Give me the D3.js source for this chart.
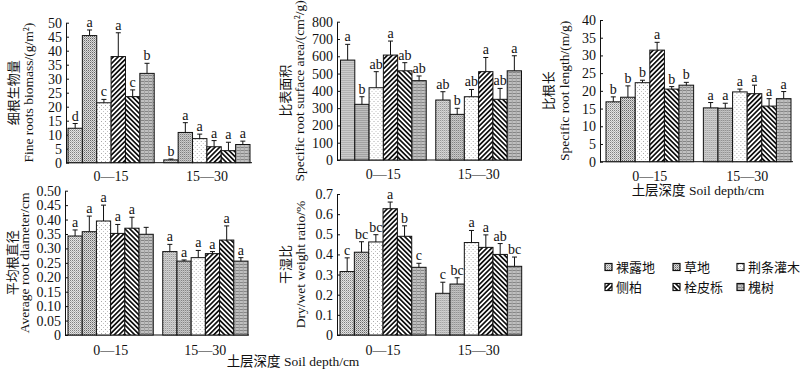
<!DOCTYPE html>
<html>
<head>
<meta charset="utf-8">
<script src="https://cdn.jsdelivr.net/npm/d3@7"></script>
<style>
  body { margin: 0; background: #fff; }
  text { font-family: "Liberation Serif", "Times New Roman", "Noto Sans CJK SC", serif; fill: #111; }
</style>
</head>
<body>
<div id="chart"></div>
<script>
var width = 800;
var height = 374;

var treatments = ['裸露地', '草地', '荆条灌木', '侧柏', '栓皮栎', '槐树'];
var depths = ['0—15', '15—30'];

// fine root biomass g/m2
var biomassMean = [[12.3, 45.4, 21.4, 37.9, 23.6, 31.9], [1.0, 10.8, 8.6, 5.7, 4.3, 6.5]];
var biomassErr = [[1.7, 2.0, 1.2, 8.5, 2.4, 3.6], [0.3, 3.5, 1.6, 2.2, 3.0, 1.2]];
var biomassSig = [['d', 'a', 'c', 'a', 'c', 'b'], ['b', 'a', 'a', 'a', 'a', 'a']];

// specific root surface area cm2/g
var areaMean = [[578, 322, 418, 607, 516, 459], [347, 264, 366, 511, 351, 516]];
var areaErr = [[91, 44, 93, 81, 47, 27], [48, 35, 42, 82, 63, 87]];
var areaSig = [['a', 'b', 'ab', 'a', 'ab', 'ab'], ['ab', 'b', 'ab', 'a', 'ab', 'a']];

// specific root length m/g
var lengthMean = [[16.9, 18.2, 22.3, 31.5, 20.5, 21.6], [15.2, 15.1, 19.7, 19.2, 15.7, 17.8]];
var lengthErr = [[1.4, 3.2, 0.7, 2.2, 0.7, 0.8], [1.5, 1.4, 0.8, 2.4, 2.1, 2.0]];
var lengthSig = [['b', 'b', 'b', 'a', 'b', 'b'], ['a', 'a', 'a', 'a', 'a', 'a']];

// average root diameter cm
var diamMean = [[0.343, 0.358, 0.395, 0.352, 0.370, 0.349], [0.289, 0.256, 0.268, 0.282, 0.329, 0.256]];
var diamErr = [[0.021, 0.054, 0.055, 0.031, 0.038, 0.024], [0.025, 0.004, 0.025, 0.007, 0.049, 0.012]];
var diamSig = [['a', 'a', 'a', 'a', 'a', ''], ['a', 'a', 'a', 'a', 'a', 'a']];

// dry/wet weight ratio
var ratioMean = [[0.315, 0.411, 0.462, 0.627, 0.490, 0.336], [0.207, 0.253, 0.459, 0.435, 0.400, 0.341]];
var ratioErr = [[0.068, 0.052, 0.036, 0.033, 0.052, 0.020], [0.055, 0.031, 0.060, 0.062, 0.054, 0.046]];
var ratioSig = [['c', 'bc', 'bc', 'a', 'b', 'c'], ['c', 'bc', 'a', 'a', 'ab', 'bc']];

var biomassTicks = d3.range(0, 51, 5);
var areaTicks = d3.range(0, 801, 100);
var lengthTicks = d3.range(0, 41, 5);
var diamTicks = d3.range(0, 11).map(function(i) { return i * 0.05; });
var ratioTicks = d3.range(0, 8).map(function(i) { return i * 0.1; });

var svg = d3.select('#chart')
  .append('svg')
  .attr('width', width)
  .attr('height', height);

var defs = svg.append('defs');

// fill patterns, one per treatment
function pat(id, w, h) {
  return defs.append('pattern')
    .attr('id', id)
    .attr('patternUnits', 'userSpaceOnUse')
    .attr('width', w)
    .attr('height', h);
}
var p0 = pat('p0', 2, 2);
p0.append('rect').attr('width', 2).attr('height', 2).attr('fill', '#e4e4e4');
p0.append('rect').attr('width', 1).attr('height', 1).attr('fill', '#808080');
p0.append('rect').attr('x', 1).attr('y', 1).attr('width', 1).attr('height', 1).attr('fill', '#b4b4b4');

var p1 = pat('p1', 2, 2);
p1.append('rect').attr('width', 2).attr('height', 2).attr('fill', '#dcdcdc');
p1.append('rect').attr('width', 1).attr('height', 1).attr('fill', '#666');
p1.append('rect').attr('x', 1).attr('y', 1).attr('width', 1).attr('height', 1).attr('fill', '#a2a2a2');

var p2 = pat('p2', 4, 4);
p2.append('rect').attr('width', 4).attr('height', 4).attr('fill', '#fff');
p2.append('rect').attr('x', 1).attr('y', 1).attr('width', 1).attr('height', 1).attr('fill', '#aaa');
p2.append('rect').attr('x', 3).attr('y', 3).attr('width', 1).attr('height', 1).attr('fill', '#c4c4c4');

var p3 = pat('p3', 3.4, 3.4).attr('patternTransform', 'rotate(45)');
p3.append('rect').attr('width', 3.4).attr('height', 3.4).attr('fill', '#fff');
p3.append('rect').attr('width', 1.7).attr('height', 3.4).attr('fill', '#111');

var p4 = pat('p4', 3.4, 3.4).attr('patternTransform', 'rotate(-45)');
p4.append('rect').attr('width', 3.4).attr('height', 3.4).attr('fill', '#fff');
p4.append('rect').attr('width', 1.7).attr('height', 3.4).attr('fill', '#111');

var p5 = pat('p5', 4, 3);
p5.append('rect').attr('width', 4).attr('height', 3).attr('fill', '#c0c0c0');
p5.append('rect').attr('width', 4).attr('height', 1).attr('fill', '#858585');
p5.append('rect').attr('width', 1).attr('height', 3).attr('fill', '#a4a4a4');

var fills = ['url(#p0)', 'url(#p1)', 'url(#p2)', 'url(#p3)', 'url(#p4)', 'url(#p5)'];

var panels = [
  { mean: biomassMean, err: biomassErr, sig: biomassSig, ticks: biomassTicks, fmt: function(d) { return d; },
    cn: '细根生物量', en: 'Fine roots  biomass/(g/m²)',
    left: 66, right: 252, barL: 68, barR: 250, top: 22.7, bottom: 162.7, cnX: 13, enX: 28, labY: 176 },
  { mean: areaMean, err: areaErr, sig: areaSig, ticks: areaTicks, fmt: function(d) { return d; },
    cn: '比表面积', en: 'Specific root surface area/(cm²/g)',
    left: 337, right: 522, barL: 340.5, barR: 521.5, top: 21.7, bottom: 160, cnX: 285, enX: 299, labY: 174 },
  { mean: lengthMean, err: lengthErr, sig: lengthSig, ticks: lengthTicks, fmt: function(d) { return d; },
    cn: '比根长', en: 'Specific root length/(m/g)',
    left: 600, right: 793, barL: 606, barR: 791, top: 20, bottom: 161.7, cnX: 548, enX: 564, labY: 176 },
  { mean: diamMean, err: diamErr, sig: diamSig, ticks: diamTicks, fmt: function(d) { return d === 0 ? '0' : d3.format('.2f')(d); },
    cn: '平均根直径', en: 'Average root diameter/cm',
    left: 65, right: 249, barL: 68, barR: 248, top: 190.7, bottom: 335, cnX: 12, enX: 24, labY: 350 },
  { mean: ratioMean, err: ratioErr, sig: ratioSig, ticks: ratioTicks, fmt: function(d) { return d === 0 ? '0' : d3.format('.1f')(d); },
    cn: '干湿比', en: 'Dry/wet  weight  ratio/%',
    left: 337, right: 522, barL: 340, barR: 521.7, top: 194, bottom: 335, cnX: 285, enX: 300, labY: 350 }
];

panels.forEach(function(p) {
  var g = svg.append('g');
  var yMax = p.ticks[p.ticks.length - 1];
  var y = d3.scaleLinear().domain([0, yMax]).range([p.bottom, p.top]);
  var x0 = d3.scaleBand().domain(depths).range([p.barL, p.barR]).paddingInner(0.1);
  var x1 = d3.scaleBand().domain(treatments).range([0, x0.bandwidth()]);

  // y axis
  var yAxis = d3.axisLeft(y)
    .tickValues(p.ticks)
    .tickFormat(p.fmt)
    .tickSizeInner(-3)
    .tickSizeOuter(0)
    .tickPadding(4);
  var ya = g.append('g').attr('transform', 'translate(' + p.left + ',0)').call(yAxis);
  ya.select('.domain').attr('stroke', '#111');
  ya.selectAll('.tick line').attr('stroke', '#111');
  ya.selectAll('.tick text').style('font-size', '14px').attr('fill', '#111');

  // x axis baseline
  g.append('line')
    .attr('x1', p.left).attr('x2', p.right)
    .attr('y1', p.bottom).attr('y2', p.bottom)
    .attr('stroke', '#111');

  // group labels
  g.selectAll('.grp')
    .data(depths)
    .enter().append('text')
    .attr('x', function(d) { return x0(d) + x0.bandwidth() / 2; })
    .attr('y', p.labY)
    .attr('text-anchor', 'middle')
    .attr('dominant-baseline', 'central')
    .style('font-size', '14px')
    .text(function(d) { return d; });

  depths.forEach(function(dep, gi) {
    var gg = g.append('g').attr('transform', 'translate(' + x0(dep) + ',0)');
    var rows = treatments.map(function(t, i) {
      return { t: t, i: i, v: p.mean[gi][i], e: p.err[gi][i], s: p.sig[gi][i] };
    });

    // bars
    gg.selectAll('rect')
      .data(rows)
      .enter().append('rect')
      .attr('x', function(d) { return x1(d.t); })
      .attr('y', function(d) { return y(d.v); })
      .attr('width', x1.bandwidth())
      .attr('height', function(d) { return p.bottom - y(d.v); })
      .attr('fill', function(d) { return fills[d.i]; })
      .attr('stroke', '#111')
      .attr('stroke-width', 1);

    // error bars
    gg.selectAll('.eb')
      .data(rows)
      .enter().append('line')
      .attr('x1', function(d) { return x1(d.t) + x1.bandwidth() / 2; })
      .attr('x2', function(d) { return x1(d.t) + x1.bandwidth() / 2; })
      .attr('y1', function(d) { return y(d.v); })
      .attr('y2', function(d) { return y(d.v + d.e); })
      .attr('stroke', '#111');
    gg.selectAll('.cap')
      .data(rows)
      .enter().append('line')
      .attr('x1', function(d) { return x1(d.t) + x1.bandwidth() / 2 - 2.5; })
      .attr('x2', function(d) { return x1(d.t) + x1.bandwidth() / 2 + 2.5; })
      .attr('y1', function(d) { return y(d.v + d.e); })
      .attr('y2', function(d) { return y(d.v + d.e); })
      .attr('stroke', '#111');

    // significance letters
    gg.selectAll('.sig')
      .data(rows)
      .enter().append('text')
      .attr('x', function(d) { return x1(d.t) + x1.bandwidth() / 2; })
      .attr('y', function(d) { return y(d.v + d.e) - 3; })
      .attr('text-anchor', 'middle')
      .style('font-size', '14px')
      .text(function(d) { return d.s; });
  });

  // y titles
  var cy = (p.top + p.bottom) / 2;
  g.append('text')
    .attr('transform', 'translate(' + p.cnX + ',' + cy + ') rotate(-90)')
    .attr('text-anchor', 'middle')
    .attr('dominant-baseline', 'central')
    .style('font-size', '13px')
    .text(p.cn);
  g.append('text')
    .attr('transform', 'translate(' + p.enX + ',' + cy + ') rotate(-90)')
    .attr('text-anchor', 'middle')
    .attr('dominant-baseline', 'central')
    .style('font-size', '13.5px')
    .text(p.en);
});

// x titles
svg.append('text')
  .attr('x', 698).attr('y', 190)
  .attr('text-anchor', 'middle')
  .attr('dominant-baseline', 'central')
  .style('font-size', '13.5px')
  .text('土层深度 Soil depth/cm');
svg.append('text')
  .attr('x', 293).attr('y', 361)
  .attr('text-anchor', 'middle')
  .attr('dominant-baseline', 'central')
  .style('font-size', '13.5px')
  .text('土层深度 Soil depth/cm');

// legend
var legX = [605, 673, 737];
var legY = [267, 287];
var leg = svg.selectAll('.leg')
  .data(treatments)
  .enter().append('g')
  .attr('transform', function(d, i) {
    return 'translate(' + legX[i % 3] + ',' + legY[Math.floor(i / 3)] + ')';
  });
leg.append('rect')
  .attr('x', 0).attr('y', -3.5)
  .attr('width', 7).attr('height', 7)
  .attr('fill', function(d, i) { return fills[i]; })
  .attr('stroke', '#111')
  .attr('stroke-width', 1.2);
leg.append('text')
  .attr('x', 11)
  .attr('y', 0)
  .attr('dominant-baseline', 'central')
  .style('font-size', '13px')
  .text(function(d) { return d; });
</script>
</body>
</html>
